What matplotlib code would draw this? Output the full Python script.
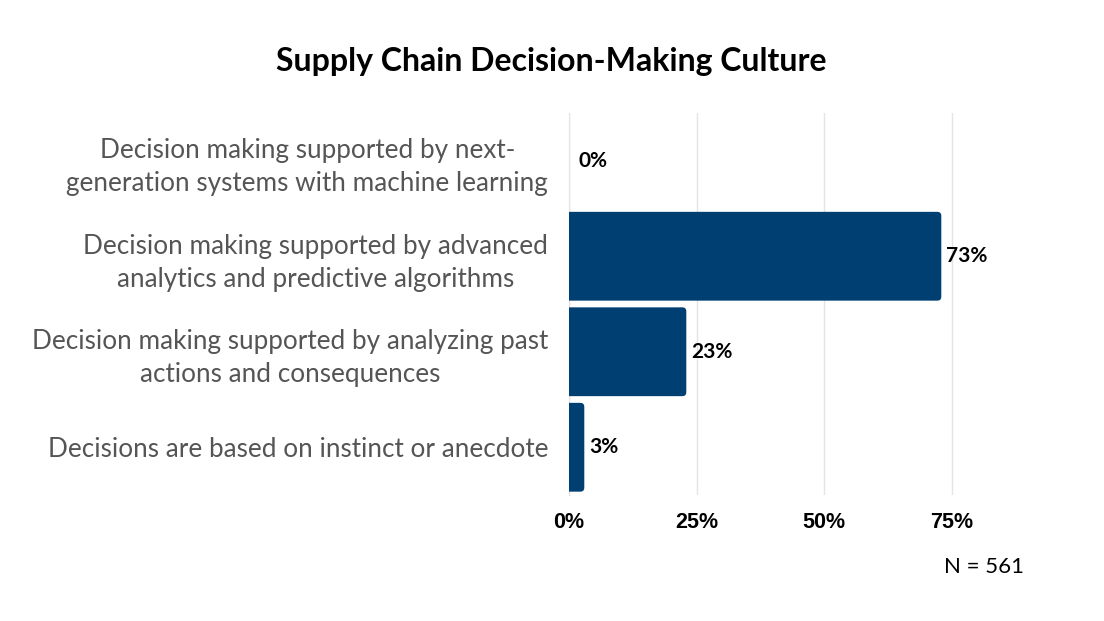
import matplotlib
matplotlib.use("Agg")
import matplotlib.pyplot as plt
from matplotlib.patches import FancyBboxPatch

categories = [
    "Decision making supported by next-\ngeneration systems with machine learning",
    "Decision making supported by advanced\nanalytics and predictive algorithms",
    "Decision making supported by analyzing past\nactions and consequences",
    "Decisions are based on instinct or anecdote",
]
values = [0, 73, 23, 3]
value_labels = ["0%", "73%", "23%", "3%"]
xticks = [0, 25, 50, 75]
xtick_labels = ["0%", "25%", "50%", "75%"]
title = "Supply Chain Decision-Making Culture"
note = "N = 561"

BAR = "#003F72"
W, H = 1104, 621
fig = plt.figure(figsize=(W / 100, H / 100), dpi=100)
left, right, top, bottom = 569, 977, 113, 495
ax = fig.add_axes([left / W, 1 - bottom / H, (right - left) / W, (bottom - top) / H])

n = len(categories)
ys = list(range(n))
ax.set_xlim(0, 80)
ax.set_ylim(n - 0.5, -0.5)

bars = ax.barh(ys, values, height=0.93, color=BAR)
px_x = (right - left) / 80.0
px_y = (bottom - top) / n
r_px = 4
for b in bars:
    x0, y0 = b.get_x(), b.get_y()
    w, h = b.get_width(), b.get_height()
    b.set_visible(False)
    if w <= 0:
        continue
    ext = 2 * r_px / px_x
    rs = r_px / px_x
    p = FancyBboxPatch((x0 - ext, y0), w + ext, h,
                       boxstyle=f"round,pad=0,rounding_size={rs}",
                       mutation_aspect=(r_px / px_y) / rs,
                       facecolor=BAR, edgecolor="none", clip_on=True)
    ax.add_patch(p)
    p.set_clip_path(ax.patch)

for y, v, lab in zip(ys, values, value_labels):
    off = 6.5 if v == 0 else 3.6
    ax.annotate(lab, (v, y), xytext=(off, 0), textcoords="offset points",
                va="center", ha="left", fontsize=15, fontweight="bold",
                family="Lato", color="black")

ax.set_yticks(ys)
ax.set_yticklabels(categories, fontsize=18.8, family="Lato", color="#555555",
                   multialignment="center", linespacing=1.4)
ax.tick_params(axis="y", length=0, pad=15)
ax.set_xticks(xticks)
ax.set_xticklabels(xtick_labels, fontsize=15.5, fontweight="bold",
                   family="Liberation Sans")
ax.tick_params(axis="x", length=0, pad=12)
ax.grid(axis="x", color="#E4E4E4", linewidth=1)
ax.set_axisbelow(True)
for s in ["top", "right", "bottom"]:
    ax.spines[s].set_visible(False)
ax.spines["left"].set_color("#D9D9D9")
ax.spines["left"].set_zorder(0.5)

fig.text(551 / W, 1 - 61 / H, title, ha="center", va="center",
         fontsize=23, fontweight="bold", family="Lato")
fig.text(984 / W, 1 - 567 / H, note, ha="center", va="center",
         fontsize=16, family="Lato")

fig.savefig("out.png", dpi=100)
